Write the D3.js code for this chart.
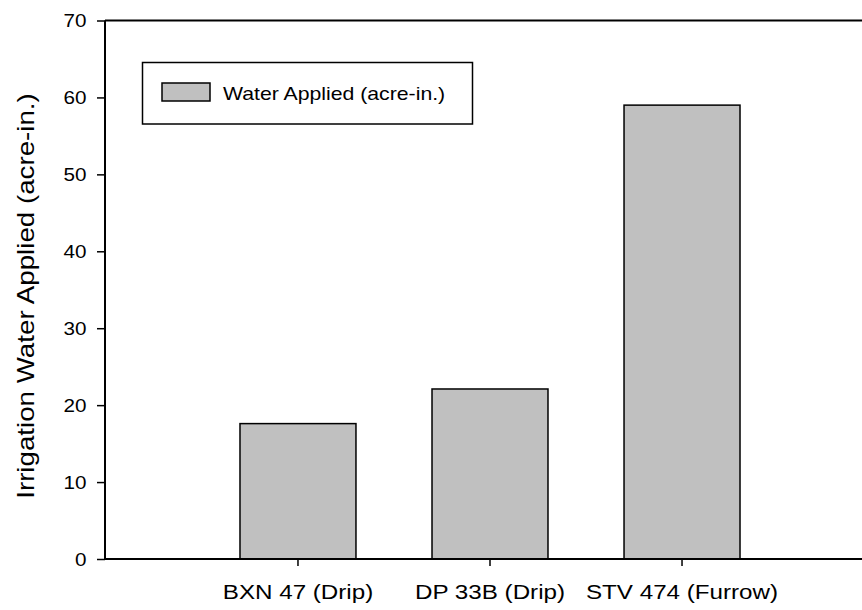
<!DOCTYPE html>
<html>
<head>
<meta charset="utf-8">
<script src="https://cdn.jsdelivr.net/npm/d3@7"></script>
<style>
  html, body { margin: 0; padding: 0; background: #fff; }
  svg { display: block; font-family: "Liberation Sans", Arial, sans-serif; }
</style>
</head>
<body>
<svg id="chart" width="862" height="610"></svg>
<script>
const categories = ["BXN 47 (Drip)", "DP 33B (Drip)", "STV 474 (Furrow)"];
const waterApplied = [17.6, 22.1, 59.0];
const yTicks = [0, 10, 20, 30, 40, 50, 60, 70];
const seriesName = "Water Applied (acre-in.)";
const yTitle = "Irrigation Water Applied (acre-in.)";

const svg = d3.select("#chart");
const mLeft = 105, mRight = 875, mTop = 20.5, mBottom = 559;
const SX = 1.18; // wide glyph stretch along the reading direction

const x = d3.scaleBand().domain(categories).range([mLeft, mRight])
  .paddingInner(0.396).paddingOuter(0.703);
const y = d3.scaleLinear().domain([0, 70]).range([mBottom, mTop]);

// top frame line
svg.append("line").attr("x1", mLeft).attr("x2", mRight).attr("y1", mTop).attr("y2", mTop)
  .attr("stroke", "#000").attr("stroke-width", 2);

// bars
svg.append("g").selectAll("rect").data(categories).join("rect")
  .attr("x", d => x(d)).attr("width", x.bandwidth())
  .attr("y", (d, i) => y(waterApplied[i]))
  .attr("height", (d, i) => y(0) - y(waterApplied[i]))
  .attr("fill", "#c0c0c0").attr("stroke", "#000").attr("stroke-width", 1.5);

// y axis
const yAxis = svg.append("g").attr("transform", `translate(${mLeft},0)`)
  .call(d3.axisLeft(y).tickValues(yTicks).tickSize(8).tickPadding(8).tickFormat(d3.format("d")));
yAxis.select(".domain").attr("stroke-width", 2).attr("d", `M0,${mTop}V${mBottom}`);
yAxis.selectAll(".tick line").attr("stroke-width", 1.5);
yAxis.selectAll(".tick text")
  .attr("x", null).attr("dy", "0.36em")
  .attr("transform", `translate(-18.5,0) scale(${SX},1)`)
  .attr("font-size", 17.5).attr("fill", "#000")
  .attr("font-family", "Liberation Sans, Arial, sans-serif");

// x axis
const xAxis = svg.append("g").attr("transform", `translate(0,${mBottom})`)
  .call(d3.axisBottom(x).tickSize(7).tickPadding(10));
xAxis.select(".domain").attr("stroke-width", 2).attr("d", `M${mLeft},0H${mRight}`);
xAxis.selectAll(".tick line").attr("stroke-width", 1.5);
xAxis.selectAll(".tick text")
  .attr("y", null).attr("dy", null)
  .attr("transform", `translate(0,40) scale(${SX},1)`)
  .attr("font-size", 20.5).attr("fill", "#000")
  .attr("font-family", "Liberation Sans, Arial, sans-serif");

// y title
svg.append("text")
  .attr("transform", `translate(34,296) rotate(-90) scale(${SX},1)`)
  .attr("text-anchor", "middle").attr("font-size", 23.5).attr("fill", "#000")
  .text(yTitle);

// legend
const lg = svg.append("g");
lg.append("rect").attr("x", 142.5).attr("y", 62.5).attr("width", 330).attr("height", 61.5)
  .attr("fill", "#fff").attr("stroke", "#000").attr("stroke-width", 1.5);
lg.append("rect").attr("x", 162).attr("y", 83).attr("width", 48).attr("height", 18)
  .attr("fill", "#c0c0c0").attr("stroke", "#000").attr("stroke-width", 1.5);
lg.append("text").attr("transform", `translate(223,100) scale(${SX},1)`)
  .attr("font-size", 18).attr("fill", "#000")
  .text(seriesName);
</script>
</body>
</html>
